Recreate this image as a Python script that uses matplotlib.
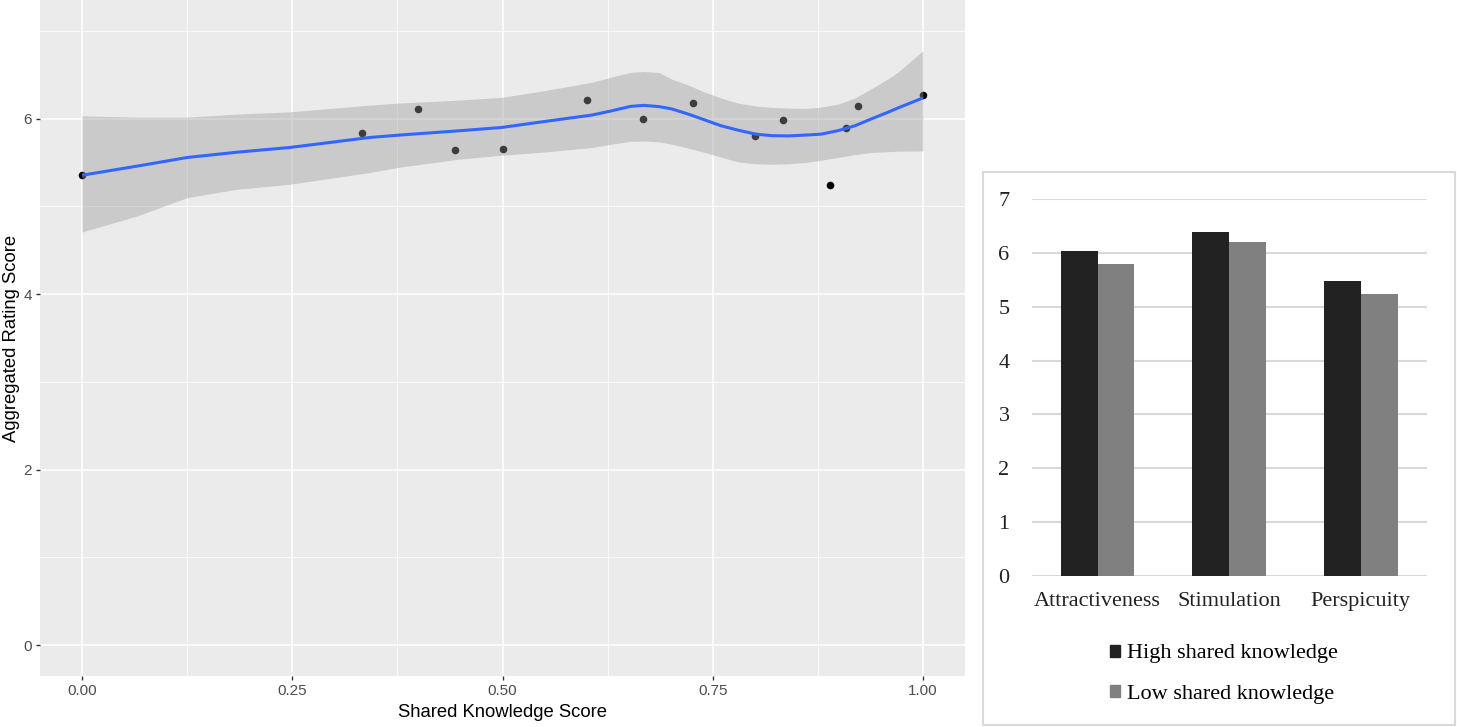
import numpy as np
import matplotlib.pyplot as plt
from matplotlib.patches import Rectangle, Patch

# 散点数据 (Shared Knowledge Score vs Aggregated Rating Score)
score_x = [0.0, 0.333, 0.4, 0.444, 0.5, 0.6, 0.667, 0.727, 0.8, 0.833, 0.889, 0.909, 0.923, 1.0]
score_y = [5.36, 5.84, 6.11, 5.64, 5.65, 6.21, 6.00, 6.18, 5.80, 5.98, 5.24, 5.89, 6.14, 6.27]

# 平滑曲线及置信带
smooth_x = [0.000, 0.065, 0.125, 0.184, 0.247, 0.342, 0.377, 0.448, 0.499, 0.547,
            0.606, 0.630, 0.652, 0.668, 0.686, 0.701, 0.721, 0.741, 0.760, 0.780,
            0.801, 0.820, 0.840, 0.860, 0.879, 0.899, 0.919, 0.938, 0.958, 0.970, 1.000]
smooth_y = [5.354, 5.457, 5.556, 5.616, 5.670, 5.784, 5.811, 5.860, 5.898, 5.962,
            6.039, 6.088, 6.138, 6.150, 6.136, 6.110, 6.050, 5.982, 5.917, 5.868,
            5.822, 5.805, 5.802, 5.811, 5.822, 5.862, 5.917, 5.993, 6.070, 6.119, 6.235]
band_hi = [6.031, 6.016, 6.016, 6.050, 6.076, 6.153, 6.176, 6.210, 6.241, 6.313,
           6.412, 6.473, 6.525, 6.535, 6.524, 6.450, 6.381, 6.298, 6.233, 6.176,
           6.142, 6.127, 6.119, 6.115, 6.130, 6.164, 6.233, 6.336, 6.450, 6.526, 6.773]
band_lo = [4.707, 4.889, 5.099, 5.194, 5.251, 5.385, 5.445, 5.537, 5.582, 5.616,
           5.670, 5.708, 5.740, 5.744, 5.734, 5.708, 5.662, 5.613, 5.559, 5.506,
           5.485, 5.479, 5.485, 5.499, 5.525, 5.556, 5.588, 5.613, 5.622, 5.628, 5.631]

# 柱状图数据
categories = ['Attractiveness', 'Stimulation', 'Perspicuity']
high_shared = [6.04, 6.40, 5.48]
low_shared = [5.80, 6.21, 5.23]

fig = plt.figure(figsize=(14.57, 7.27), dpi=100)
W, H = 1457, 727

# ---------- 左图: ggplot 风格 ----------
ax = fig.add_axes([40 / W, (H - 676) / H, 925 / W, 676 / H])
ax.set_facecolor('#EBEBEB')
for s in ax.spines.values():
    s.set_visible(False)

ax.set_xlim(-0.05, 1.05)
ax.set_ylim(-0.35, 7.35)
ax.set_xticks([0, 0.25, 0.5, 0.75, 1.0])
ax.set_xticklabels(['0.00', '0.25', '0.50', '0.75', '1.00'])
ax.set_yticks([0, 2, 4, 6])
ax.set_xticks([0.125, 0.375, 0.625, 0.875], minor=True)
ax.set_yticks([1, 3, 5, 7], minor=True)
ax.grid(which='major', color='white', linewidth=1.1)
ax.grid(which='minor', color='white', linewidth=0.55)
ax.set_axisbelow(True)
ax.tick_params(which='major', length=3, width=1, color='#333333', labelcolor='#4D4D4D',
               labelsize=11, pad=3)
ax.tick_params(which='minor', length=0)
for lab in ax.get_xticklabels() + ax.get_yticklabels():
    lab.set_family('Liberation Sans')

ax.scatter(score_x, score_y, s=30, color='black', zorder=2, linewidths=0)
ax.fill_between(smooth_x, band_lo, band_hi, color='#999999', alpha=0.4, linewidth=0, zorder=3)
ax.plot(smooth_x, smooth_y, color='#3366FF', linewidth=2.2, zorder=4, solid_capstyle='butt')

ax.set_xlabel('Shared Knowledge Score', fontsize=13.3, family='Liberation Sans', labelpad=4)
ax.set_ylabel('Aggregated Rating Score', fontsize=13.3, family='Liberation Sans', labelpad=2)

# ---------- 右图: Excel 风格柱状图 ----------
fig.add_artist(Rectangle((983 / W, (H - 725) / H), 472 / W, 553 / H, transform=fig.transFigure,
                         fill=False, edgecolor='#D9D9D9', linewidth=1.5))

bx = fig.add_axes([1031.7 / W, (H - 575.7) / H, 395 / W, 376.4 / H])
idx = np.arange(len(categories))
bw = 0.28
bx.bar(idx - bw / 2, high_shared, width=bw, color='#222222', zorder=2)
bx.bar(idx + bw / 2, low_shared, width=bw, color='#808080', zorder=2)
bx.set_xlim(-0.5, 2.5)
bx.set_ylim(0, 7)
bx.set_yticks(range(8))
bx.set_xticks(idx)
bx.set_xticklabels(categories)
bx.yaxis.grid(True, color='#D9D9D9', linewidth=1.5)
bx.set_axisbelow(True)
for s in bx.spines.values():
    s.set_visible(False)
bx.tick_params(length=0, labelsize=16, labelcolor='#222222')
bx.tick_params(axis='y', pad=16)
bx.tick_params(axis='x', pad=12)
for lab in bx.get_xticklabels() + bx.get_yticklabels():
    lab.set_family('Liberation Serif')

handles = [Patch(color='#222222', label='High shared knowledge'),
           Patch(color='#808080', label='Low shared knowledge')]
fig.legend(handles=handles, loc='center', bbox_to_anchor=(1224 / W, (H - 674) / H),
           frameon=False, handlelength=0.45, handleheight=0.45, handletextpad=0.3,
           labelspacing=0.95, prop={'family': 'Liberation Serif', 'size': 16})

fig.savefig('out.png', dpi=100)
